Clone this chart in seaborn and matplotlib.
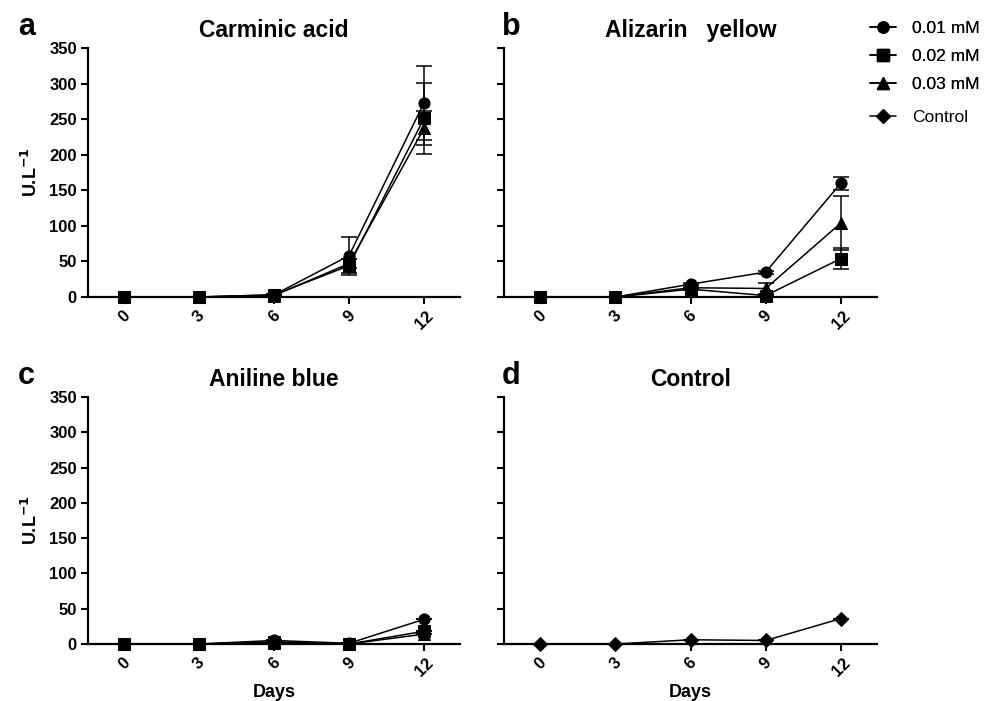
import matplotlib
matplotlib.use("Agg")
import matplotlib.pyplot as plt
from matplotlib.lines import Line2D
import seaborn as sns
import pandas as pd
import numpy as np

sns.set_theme(style="ticks")
plt.rcParams['font.family'] = ['Liberation Sans', 'DejaVu Sans']
plt.rcParams['text.color'] = 'black'
plt.rcParams['axes.labelcolor'] = 'black'
plt.rcParams['xtick.color'] = 'black'
plt.rcParams['ytick.color'] = 'black'

days = [0, 3, 6, 9, 12]
series_labels = ["0.01 mM", "0.02 mM", "0.03 mM"]

carminic_01 = [0, 0, 3, 58, 273]
carminic_02 = [0, 0, 3, 44, 251]
carminic_03 = [0, 0, 2, 47, 237]
carminic_01_err = [0, 0, 1, 27, 52]
carminic_02_err = [0, 0, 1, 10, 50]
carminic_03_err = [0, 0, 1, 6, 24]

alizarin_01 = [0, 0, 18, 35, 160]
alizarin_02 = [0, 0, 11, 2, 54]
alizarin_03 = [0, 0, 13, 12, 104]
alizarin_01_err = [0, 0, 1, 2, 9]
alizarin_02_err = [0, 0, 1, 1, 15]
alizarin_03_err = [0, 0, 1, 8, 38]

aniline_01 = [0, 0, 5, 1, 35]
aniline_02 = [0, 0, 3, 0, 18]
aniline_03 = [0, 0, 2, 0, 14]
aniline_01_err = [0, 0, 0, 0, 0]
aniline_02_err = [0, 0, 0, 0, 0]
aniline_03_err = [0, 0, 0, 0, 0]

control = [0, 0, 6, 5, 36]
control_err = [0, 0, 0, 0, 0]

panels = [
    ("a", "Carminic acid", [carminic_01, carminic_02, carminic_03],
     [carminic_01_err, carminic_02_err, carminic_03_err]),
    ("b", "Alizarin   yellow", [alizarin_01, alizarin_02, alizarin_03],
     [alizarin_01_err, alizarin_02_err, alizarin_03_err]),
    ("c", "Aniline blue", [aniline_01, aniline_02, aniline_03],
     [aniline_01_err, aniline_02_err, aniline_03_err]),
    ("d", "Control", [control], [control_err]),
]
markers = ["o", "s", "^"]

fig = plt.figure(figsize=(9.91, 7.01), dpi=100)
W, H = 991, 701
boxes = [(88, 48, 460, 297), (504, 48, 877, 297),
         (88, 397, 460, 644), (504, 397, 877, 644)]

for i, ((letter, title, vals, errs), (x0, y0, x1, y1)) in enumerate(zip(panels, boxes)):
    ax = fig.add_axes([x0 / W, 1 - y1 / H, (x1 - x0) / W, (y1 - y0) / H])
    if letter == "d":
        labels = ["Control"]
        mks = ["D"]
    else:
        labels = series_labels
        mks = markers
    rows = []
    for lab, v in zip(labels, vals):
        for d, y in zip(days, v):
            rows.append({"Days": d, "val": y, "series": lab})
    df = pd.DataFrame(rows)
    for lab, v, e, m in zip(labels, vals, errs, mks):
        ax.errorbar(days, v, yerr=e, fmt="none", ecolor="black", elinewidth=1.1,
                    capsize=6, capthick=1.1, clip_on=False, zorder=2)
    sns.lineplot(data=df, x="Days", y="val", hue="series", style="series",
                 markers=dict(zip(labels, mks)), dashes=False,
                 palette=["black"] * len(labels), ax=ax, legend=False,
                 linewidth=1.1, markersize=8 if letter != "d" else 7,
                 markeredgecolor="black", clip_on=False, zorder=3)
    ax.set_xlim(-1.44, 13.44)
    ax.set_ylim(0, 350)
    ax.set_xticks(days)
    ax.set_xticklabels([str(d) for d in days], rotation=45, ha="center",
                       fontsize=12, fontweight="bold")
    ax.set_yticks(np.arange(0, 351, 50))
    if letter in ("a", "c"):
        ax.set_yticklabels([str(t) for t in range(0, 351, 50)], fontsize=12,
                           fontweight="bold")
        ax.set_ylabel("U.L$^{\\mathbf{-1}}$", fontsize=13, fontweight="bold",
                      labelpad=6)
    else:
        ax.set_yticklabels([])
        ax.set_ylabel("")
    if letter in ("c", "d"):
        ax.set_xlabel("Days", fontsize=13, fontweight="bold", labelpad=4)
    else:
        ax.set_xlabel("")
    for s in ["top", "right"]:
        ax.spines[s].set_visible(False)
    for s in ["left", "bottom"]:
        ax.spines[s].set_linewidth(1.6)
        ax.spines[s].set_color("black")
    ax.tick_params(axis="both", direction="out", length=5, width=1.5,
                   colors="black", pad=3)
    ax.set_title(title, fontsize=16.5, fontweight="bold", pad=8)
    fig.text((x0 - 70) / W if letter in ("a", "c") else (x0 - 2) / W,
             1 - (y0 - 21) / H, letter, fontsize=22, fontweight="bold",
             ha="left", va="center")

handles = [Line2D([], [], color="black", marker=m, markersize=8, linewidth=1.1)
           for m in markers]
ctrl_handle = [Line2D([], [], color="black", marker="D", markersize=7, linewidth=1.1)]
leg_kw = dict(loc="upper left", frameon=False, fontsize=12.5,
              handlelength=1.5, handletextpad=0.9, borderaxespad=0, borderpad=0)
leg1 = fig.legend(handles, series_labels, bbox_to_anchor=(870 / W, 1 - 21 / H),
                  labelspacing=0.74, **leg_kw)
fig.add_artist(leg1)
fig.legend(ctrl_handle, ["Control"], bbox_to_anchor=(870 / W, 1 - 110 / H),
           **leg_kw)

fig.savefig("out.png", dpi=100)
